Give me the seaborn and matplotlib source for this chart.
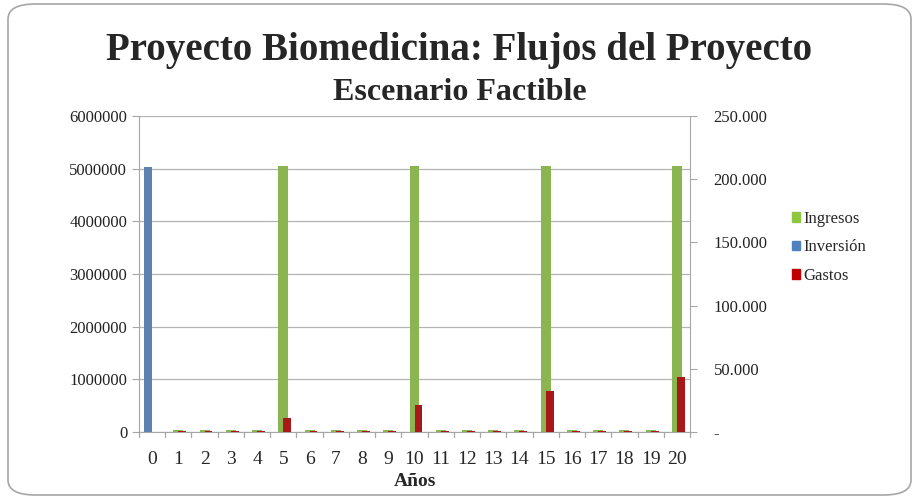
import pandas as pd
import seaborn as sns
import matplotlib.pyplot as plt
from matplotlib.patches import FancyBboxPatch
from matplotlib.ticker import FuncFormatter

# Datos
anios = list(range(21))
# eje principal
ingresos = [0, 30000, 30000, 30000, 30000, 5050000, 30000, 30000, 30000, 30000, 5050000,
            30000, 30000, 30000, 30000, 5050000, 30000, 30000, 30000, 30000, 5050000]
# eje secundario
inversion = [210000] + [0] * 20
gastos = [0, 700, 700, 700, 700, 10900, 700, 700, 700, 700, 21700,
          700, 700, 700, 700, 32500, 700, 700, 700, 700, 43300]

series = ["Ingresos", "Inversión", "Gastos"]
colores = {"Ingresos": "#8DC63F", "Inversión": "#4F81BD", "Gastos": "#C00000"}

df_ing = pd.DataFrame({"Años": anios, "Valor": ingresos})
df_sec = pd.DataFrame({"Años": anios, "Inversión": inversion, "Gastos": gastos})
df_sec = df_sec.melt(id_vars="Años", var_name="Serie", value_name="Valor")

sns.set_style("white")
plt.rcParams['font.family'] = ['Liberation Serif', 'DejaVu Serif']

fig = plt.figure(figsize=(9.19, 4.99), dpi=100)
ax = fig.add_axes([139 / 919, 1 - 432 / 499, (690 - 139) / 919, (432 - 116) / 499])

# borde redondeado del area del grafico
borde = FancyBboxPatch((8 / 919, 4 / 499), 903 / 919, 491 / 499,
                       boxstyle="round,pad=0,rounding_size=0.03",
                       transform=fig.transFigure, facecolor="white",
                       edgecolor="#A6A6A6", linewidth=1.2, zorder=-10)
fig.patches.append(borde)

sns.barplot(data=df_ing, x="Años", y="Valor", color=colores["Ingresos"],
            width=0.38, linewidth=0, ax=ax, zorder=3)

ax.set_ylim(0, 6000000)
ax.set_yticks(range(0, 6000001, 1000000))
ax.yaxis.set_major_formatter(FuncFormatter(lambda v, p: f"{int(v)}"))
ax.grid(axis="y", color="#B3B3B3", linewidth=0.9, zorder=0)
ax.set_axisbelow(True)
ax.set_xlim(-0.5, 20.5)
ax.set_xlabel("Años", fontsize=14, fontweight="bold", labelpad=3)
ax.set_ylabel("")
ax.tick_params(axis="x", labelsize=14, length=0, pad=14)
ax.tick_params(axis="y", labelsize=12, length=5, color="#A6A6A6", direction="out",
               left=True, labelcolor="#222222")
for s in ["top", "right"]:
    ax.spines[s].set_visible(False)
for s in ["left", "bottom"]:
    ax.spines[s].set_color("#A6A6A6")

# marcas entre categorias en el eje x
for i in range(22):
    ax.plot([i - 0.5, i - 0.5], [0, -90000], color="#A6A6A6", lw=0.9, clip_on=False)

ax2 = ax.twinx()
sns.barplot(data=df_sec, x="Años", y="Valor", hue="Serie",
            hue_order=["Inversión", "Gastos"], palette=colores,
            width=0.6, linewidth=0, ax=ax2, legend=False, zorder=4)
ax2.set_xlim(-0.5, 20.5)
ax2.set_ylim(0, 250000)
ax2.set_yticks(range(0, 250001, 50000))
ax2.set_ylabel("")
ax2.yaxis.set_major_formatter(
    FuncFormatter(lambda v, p: "-" if v == 0 else f"{int(v):,}".replace(",", ".")))
ax2.tick_params(axis="y", labelsize=12, length=5, color="#A6A6A6", right=True, pad=12,
                labelcolor="#222222")
for s in ["top", "left", "bottom"]:
    ax2.spines[s].set_visible(False)
ax2.spines["right"].set_color("#A6A6A6")

handles = [plt.Rectangle((0, 0), 1, 1, color=colores[s]) for s in series]
fig.legend(handles, series, loc="upper left", bbox_to_anchor=(785 / 919, 1 - 204 / 499),
           frameon=False, fontsize=12, handlelength=0.5, handleheight=0.5,
           handletextpad=0.2, labelspacing=0.75, borderaxespad=0)

fig.text(0.5, 1 - 60 / 499, "Proyecto Biomedicina: Flujos del Proyecto",
         ha="center", va="baseline", fontsize=28, fontweight="bold")
fig.text(0.5, 1 - 100 / 499, "Escenario Factible",
         ha="center", va="baseline", fontsize=23, fontweight="bold")

fig.savefig("out.png", dpi=100)
